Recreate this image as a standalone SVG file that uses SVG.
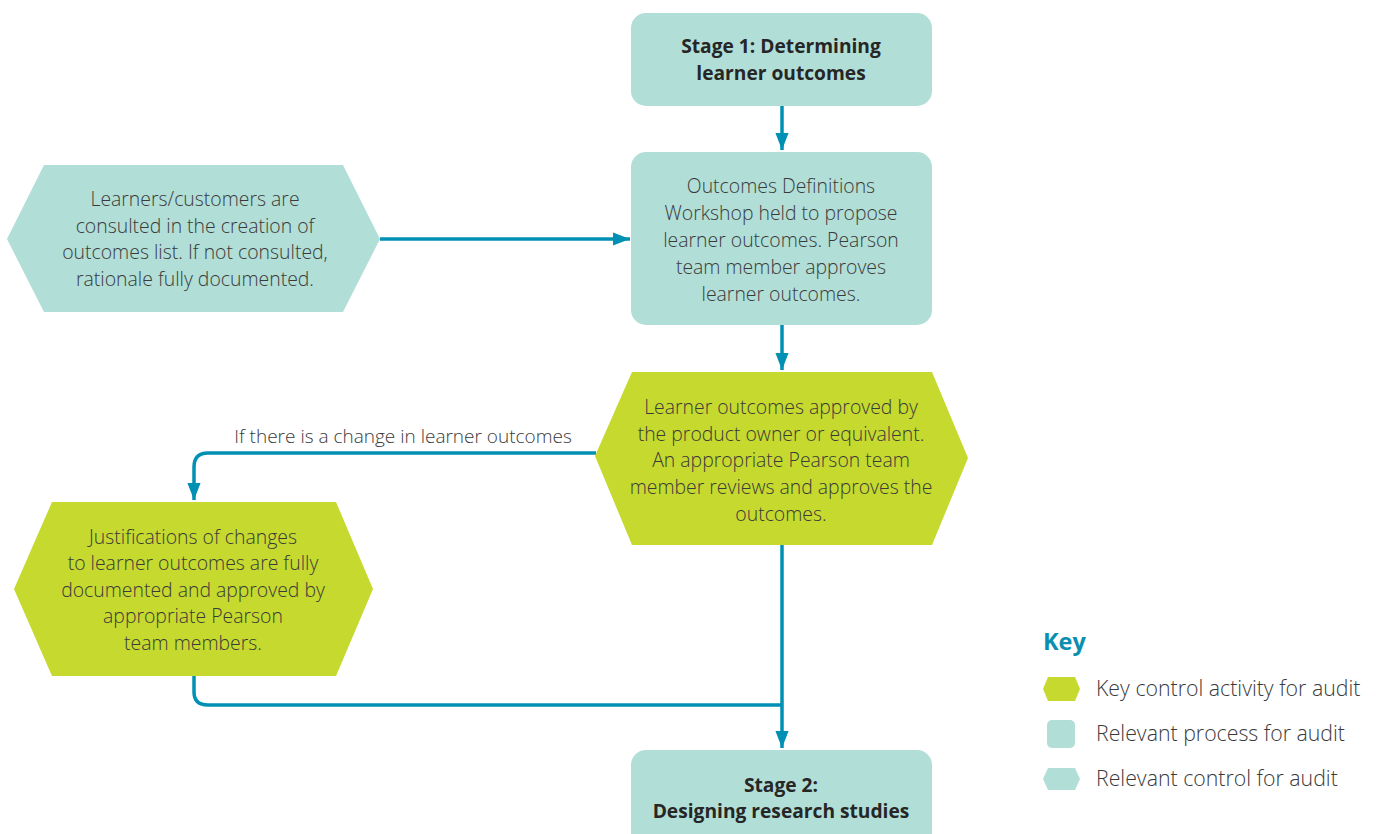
<svg xmlns="http://www.w3.org/2000/svg" width="1376" height="834" viewBox="0 0 1376 834">
<defs>
<style>
.proc{fill:#b1ded6}
.ctrl{fill:#b1ded6}
.key{fill:#c5d92e}
.t{font-family:"Open Sans","Liberation Sans",sans-serif;font-weight:300;font-size:19.4px;fill:#3a3a3a;text-anchor:middle}
.b{font-family:"Open Sans","Liberation Sans",sans-serif;font-weight:700;font-size:19.2px;fill:#262626;text-anchor:middle}
.lg{font-family:"Open Sans","Liberation Sans",sans-serif;font-weight:300;font-size:21.3px;fill:#3a3a3a}
.c{fill:none;stroke:#0090b4;stroke-width:3.5}
</style>
<marker id="ah" markerWidth="17" markerHeight="22" refX="22" refY="8.5" viewBox="0 0 22 17" orient="auto" markerUnits="userSpaceOnUse">
<path d="M0,0 L22,8.5 L0,17 Z" fill="#0090b4"/>
</marker>
</defs>
<rect width="1376" height="834" fill="#ffffff"/>

<g id="connectors">
<path class="c" d="M782,106 V150" marker-end="url(#ah)"/>
<path class="c" d="M380,239 H630" marker-end="url(#ah)"/>
<path class="c" d="M782,325 V370" marker-end="url(#ah)"/>
<path class="c" d="M596,453 H208 Q194,453 194,467 V500" marker-end="url(#ah)"/>
<path class="c" d="M194,676 V692 Q194,705 208,705 H782"/>
<path class="c" d="M782,545 V748" marker-end="url(#ah)"/>
<text x="403" y="443" class="t" style="font-size:19px">If there is a change in learner outcomes</text>
</g>

<g id="stage1">
<rect class="proc" x="631" y="13" width="301" height="93" rx="15"/>
<text class="b" x="781" y="53">Stage 1: Determining</text>
<text class="b" x="781" y="80">learner outcomes</text>
</g>

<g id="workshop">
<rect class="proc" x="631" y="152" width="301" height="173" rx="15"/>
<text class="t" x="781" y="193">Outcomes Definitions</text>
<text class="t" x="781" y="220">Workshop held to propose</text>
<text class="t" x="781" y="247">learner outcomes. Pearson</text>
<text class="t" x="781" y="274">team member approves</text>
<text class="t" x="781" y="301">learner outcomes.</text>
</g>

<g id="consult">
<polygon class="ctrl" points="7,239 44,165 343,165 380,239 343,312 44,312"/>
<text class="t" x="195" y="206">Learners/customers are</text>
<text class="t" x="195" y="233">consulted in the creation of</text>
<text class="t" x="195" y="259">outcomes list. If not consulted,</text>
<text class="t" x="195" y="286">rationale fully documented.</text>
</g>

<g id="approve">
<polygon class="key" points="595,456 632,372 932,372 968,458 932,545 632,545"/>
<text class="t" x="781" y="414">Learner outcomes approved by</text>
<text class="t" x="781" y="441">the product owner or equivalent.</text>
<text class="t" x="781" y="467">An appropriate Pearson team</text>
<text class="t" x="781" y="494">member reviews and approves the</text>
<text class="t" x="781" y="521">outcomes.</text>
</g>

<g id="justify">
<polygon class="key" points="14,589 52,502 336,502 373,589 336,676 52,676"/>
<text class="t" x="193" y="544">Justifications of changes</text>
<text class="t" x="193" y="570">to learner outcomes are fully</text>
<text class="t" x="193" y="597">documented and approved by</text>
<text class="t" x="193" y="623">appropriate Pearson</text>
<text class="t" x="193" y="650">team members.</text>
</g>

<g id="stage2">
<rect class="proc" x="631" y="750" width="301" height="100" rx="15"/>
<text class="b" x="781" y="792">Stage 2:</text>
<text class="b" x="781" y="818">Designing research studies</text>
</g>

<g id="legend">
<text x="1043" y="650" style="font-family:'Open Sans','Liberation Sans',sans-serif;font-weight:700;font-size:23.5px;fill:#0a8fb0">Key</text>
<polygon class="key" points="1043,689 1048,677 1075,677 1080,689 1075,701 1048,701"/>
<text class="lg" x="1096" y="696">Key control activity for audit</text>
<rect class="proc" x="1047" y="720" width="28" height="28" rx="5"/>
<text class="lg" x="1096" y="741">Relevant process for audit</text>
<polygon class="ctrl" points="1043,779 1048,768 1075,768 1080,779 1075,790 1048,790"/>
<text class="lg" x="1096" y="786">Relevant control for audit</text>
</g>
</svg>
